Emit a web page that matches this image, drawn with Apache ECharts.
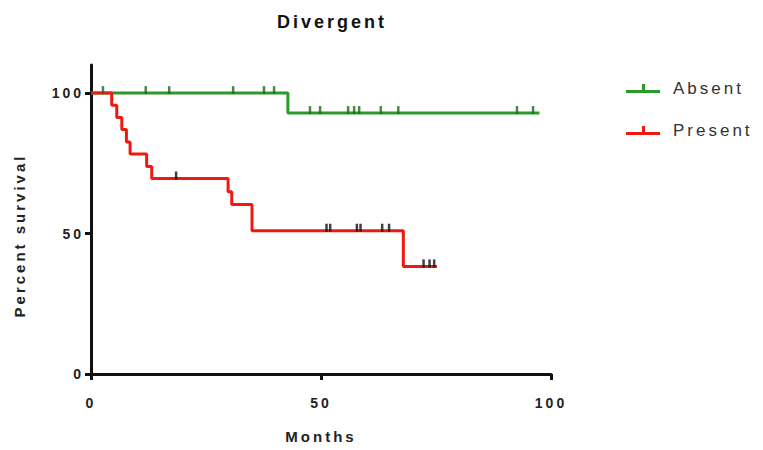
<!DOCTYPE html>
<html>
<head>
<meta charset="utf-8">
<script src="https://cdn.jsdelivr.net/npm/echarts@6/dist/echarts.min.js"></script>
<style>
  html, body { margin: 0; padding: 0; background: #fff; }
  #chart { width: 763px; height: 450px; }
  #chart text { letter-spacing: 3px; }
</style>
</head>
<body>
<div id="chart"></div>
<script>
// Kaplan-Meier survival, months vs percent survival
const groupNames = ['Absent', 'Present'];

// Absent group: event steps (time, new level) and censored times
const absentEventTimes = [42.8];
const absentEventLevels = [92.9];
const absentEndTime = 97.5;
const absentCensored = [2.6, 11.9, 17.0, 30.9, 37.6, 39.8, 47.6, 49.8, 55.9, 57.2, 58.3, 63.0, 66.8, 92.6, 96.1];

// Present group
const presentEventTimes = [4.5, 5.6, 6.7, 7.7, 8.5, 12.1, 13.2, 29.8, 30.6, 35.0, 67.9];
const presentEventLevels = [95.7, 91.3, 87.0, 82.6, 78.3, 73.9, 69.6, 64.9, 60.3, 51.0, 38.3];
const presentEndTime = 75.2;
const presentCensored = [18.5, 51.2, 52.0, 57.8, 58.6, 63.3, 64.8, 72.3, 73.6, 74.6];

const xTicks = [0, 50, 100];
const yTicks = [0, 50, 100];

function stepPoints(times, levels, endTime) {
  const pts = [[0, 100]];
  times.forEach((t, i) => pts.push([t, levels[i]]));
  pts.push([endTime, levels[levels.length - 1]]);
  return pts;
}
function levelAt(times, levels, t) {
  let v = 100;
  times.forEach((et, i) => { if (et <= t) v = levels[i]; });
  return v;
}
function censorPoints(cens, times, levels) {
  return cens.map(t => [t, levelAt(times, levels, t)]);
}

const greenLine = '#2a9a2a';
const greenTick = '#1d6a1d';
const redLine = '#ee1a12';
const redTick = '#111111';
const tickPath = 'path://M0,0h2v10h-2z';
const legendIcon = 'path://M0,9h34v3h-34z M16,3h3v7h-3z';
const font = 'Liberation Sans';

const chart = echarts.init(document.getElementById('chart'), null, { renderer: 'svg' });
chart.setOption({
  animation: false,
  title: {
    text: 'Divergent',
    left: 327, top: 8, textAlign: 'center',
    textStyle: { fontFamily: font, fontSize: 18, fontWeight: 'bold', color: '#111' }
  },
  legend: {
    data: [
      { name: groupNames[0], icon: legendIcon, itemStyle: { color: greenLine } },
      { name: groupNames[1], icon: legendIcon, itemStyle: { color: redLine } }
    ],
    orient: 'vertical', left: 621, top: 75,
    itemWidth: 34, itemHeight: 12, itemGap: 25,
    textStyle: { fontFamily: font, fontSize: 17, color: '#333', padding: [0, 0, 0, 8] }
  },
  grid: { left: 91, right: 212, top: 65, bottom: 76 },
  xAxis: {
    type: 'value', min: 0, max: 100, interval: 50,
    name: 'Months', nameLocation: 'middle', nameGap: 55,
    nameTextStyle: { fontFamily: font, fontSize: 15, fontWeight: 'bold', color: '#222' },
    axisLine: { lineStyle: { color: '#111', width: 3 } },
    axisTick: { show: true, length: 6, lineStyle: { color: '#111', width: 3 }, customValues: xTicks },
    axisLabel: { margin: 22, fontFamily: font, fontSize: 14, fontWeight: 'bold', color: '#222', customValues: xTicks },
    splitLine: { show: false }
  },
  yAxis: {
    type: 'value', min: 0, max: 110, interval: 50,
    name: 'Percent survival', nameLocation: 'middle', nameGap: 64, nameRotate: 90,
    nameTextStyle: { fontFamily: font, fontSize: 15, fontWeight: 'bold', color: '#222', padding: [0, 32, 0, 0] },
    axisLine: { lineStyle: { color: '#111', width: 3 } },
    axisTick: { show: true, length: 6, lineStyle: { color: '#111', width: 3 }, customValues: yTicks },
    axisLabel: { margin: 7, fontFamily: font, fontSize: 14, fontWeight: 'bold', color: '#222', customValues: yTicks },
    splitLine: { show: false }
  },
  series: [
    {
      name: groupNames[0], type: 'line', step: 'end', showSymbol: false,
      data: stepPoints(absentEventTimes, absentEventLevels, absentEndTime),
      lineStyle: { color: greenLine, width: 3 }, itemStyle: { color: greenLine }, z: 3
    },
    {
      name: groupNames[0], type: 'scatter', symbol: tickPath, symbolSize: [2.5, 8], symbolOffset: [0, -3],
      data: censorPoints(absentCensored, absentEventTimes, absentEventLevels),
      itemStyle: { color: greenTick }, z: 4
    },
    {
      name: groupNames[1], type: 'line', step: 'end', showSymbol: false,
      data: stepPoints(presentEventTimes, presentEventLevels, presentEndTime),
      lineStyle: { color: redLine, width: 3 }, itemStyle: { color: redLine }, z: 3
    },
    {
      name: groupNames[1], type: 'scatter', symbol: tickPath, symbolSize: [2.5, 8], symbolOffset: [0, -3],
      data: censorPoints(presentCensored, presentEventTimes, presentEventLevels),
      itemStyle: { color: redTick }, z: 4
    }
  ]
});
</script>
</body>
</html>
